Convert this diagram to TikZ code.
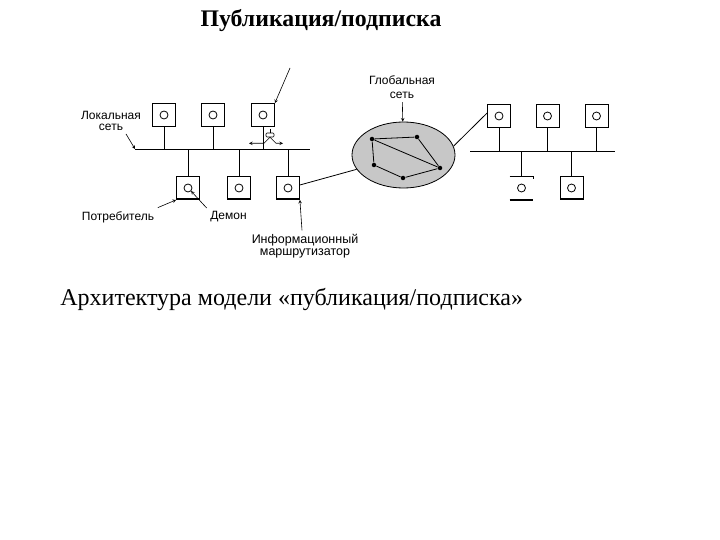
\documentclass[tikz,border=0pt]{standalone}
\usepackage{fontspec}
\setmainfont{Liberation Serif}
\newfontfamily\labelfont{Liberation Sans}
\usetikzlibrary{shapes.geometric}

\begin{document}
\begin{tikzpicture}[x=1pt, y=-1pt, >=stealth, line width=0.8pt,
    every node/.style={font=\labelfont\fontsize{12}{11.5}\selectfont},
    host/.style={draw, minimum size=23pt, inner sep=0pt,
        path picture={\draw (path picture bounding box.center) circle (4pt);}},
    lowhost/.style={host,
        path picture={\draw (path picture bounding box.center) circle (4pt);
            \draw[line width=2.4pt] (path picture bounding box.south west) -- (path picture bounding box.south east);}},
    pointer/.style={->, line width=0.6pt},
    wannode/.style={circle, fill, inner sep=0pt, minimum size=4.5pt}]
    \useasboundingbox (0,0) rectangle (720,540);

    \node[anchor=base, inner sep=0pt, font=\rmfamily\bfseries\fontsize{23.8}{28}\selectfont] (title) at (321,27) {Публикация/подписка};

    \coordinate (lbusw) at (135,149);
    \coordinate (lbuse) at (310,149);
    \draw (lbusw) -- (lbuse);
    \node[host] (lt1) at (164,115) {};
    \node[host] (lt2) at (213,115) {};
    \node[host] (lt3) at (263,115) {};
    \node[lowhost] (lb1) at (188,188) {};
    \node[lowhost] (lb2) at (239,188) {};
    \node[lowhost] (lb3) at (288,188) {};
    \foreach \h in {lt1,lt2,lt3,lb1,lb2,lb3}
        \draw (\h) -- (\h |- lbusw);

    \node[draw, rounded corners=1pt, minimum width=8pt, minimum height=4pt, inner sep=0pt, line width=0.6pt] (filter) at (270,135) {};
    \draw[line width=0.6pt] (filter.north) -- ++(0,-4);
    \draw[pointer] (filter.south) -- ++(-6,6) -- ++(-15,0);
    \draw[pointer] (filter.south) -- ++(6,6) -- ++(7,0);

    \node[draw, ellipse, fill=black!22, minimum width=103pt, minimum height=66pt] (wan) at (403.5,155) {};
    \node[wannode] (wa) at (372,139) {};
    \node[wannode] (wb) at (417,137) {};
    \node[wannode] (wc) at (374,165) {};
    \node[wannode] (wd) at (440,168) {};
    \node[wannode] (we) at (403,178) {};
    \draw (wa) -- (wb) -- (wd) -- (we) -- (wc) -- (wa) -- (wd);

    \coordinate (rbusw) at (470,151);
    \coordinate (rbuse) at (615,151);
    \draw (rbusw) -- (rbuse);
    \node[host] (rt1) at (499,116) {};
    \node[host] (rt2) at (547.5,116) {};
    \node[host] (rt3) at (596.5,116) {};
    \node[minimum size=23pt, inner sep=0pt] (rb1) at (521.5,188) {};
    \draw (rb1.north west) -- (rb1.north east) -- ++(0,3);
    \draw[line width=1.6pt] (rb1.south west) -- (rb1.south east);
    \draw (rb1.center) circle (4pt);
    \node[lowhost] (rb2) at (571.5,188) {};
    \foreach \h in {rt1,rt2,rt3,rb1,rb2}
        \draw (\h) -- (\h |- rbusw);

    \draw ([yshift=3pt]lb3.east) -- (wan.197);
    \draw (wan.10) -- ([yshift=3pt]rt1.west);

    \node[align=center] (lanlbl) at (111,121) {Локальная\\сеть};
    \coordinate (lanptr) at (126,134);
    \draw[pointer] (lanptr) -- (lbusw);
    \coordinate (topptr) at (290,68);
    \draw[pointer] (topptr) -- (lt3.north east);
    \node[align=center, font=\labelfont\fontsize{12}{14}\selectfont] (wanlbl) at (402,87) {Глобальная\\сеть};
    \draw[pointer] (wanlbl) -- (wan);
    \node (conslbl) at (118,217) {Потребитель};
    \draw[pointer] (conslbl.north east) -- (lb1.south west);
    \node (daemonlbl) at (228.5,217) {Демон};
    \draw[pointer] (daemonlbl.north west) -- ([xshift=3pt,yshift=-3pt]lb1.center);
    \node[align=center, font=\labelfont\fontsize{12.5}{12}\selectfont] (irlbl) at (305,246) {Информационный\\маршрутизатор};
    \draw[pointer] ([xshift=-3pt]irlbl.north) -- (lb3.south east);

    \node[anchor=base west, inner sep=0pt, font=\rmfamily\fontsize{24}{28}\selectfont] (caption) at (60,305) {Архитектура модели «публикация/подписка»};
\end{tikzpicture}
\end{document}
